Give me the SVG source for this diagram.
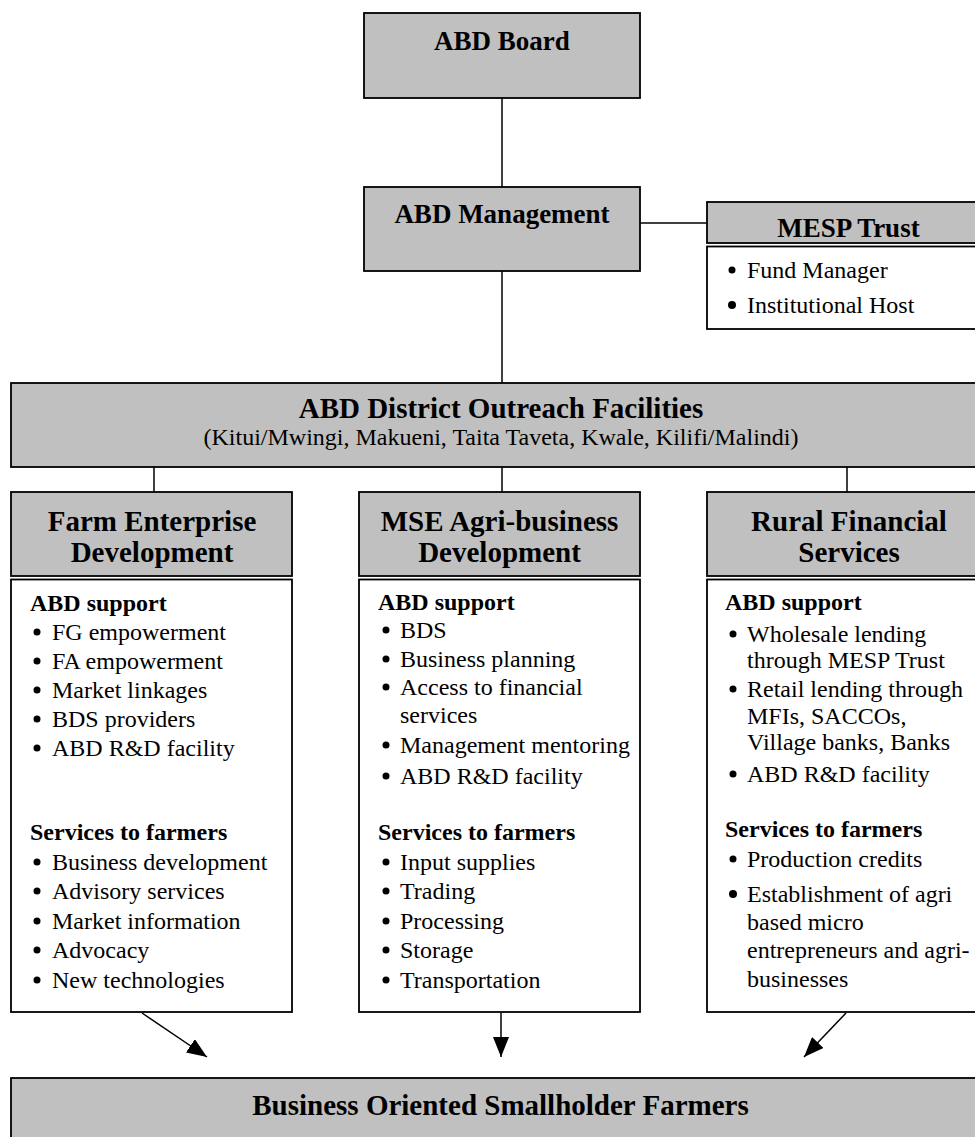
<svg xmlns="http://www.w3.org/2000/svg" width="975" height="1137" viewBox="0 0 975 1137">
<style>
.grey{fill:#c0c0c0;stroke:#000;stroke-width:1.8}
.white{fill:#fff;stroke:#000;stroke-width:1.8}
.conn{stroke:#000;stroke-width:1.5;fill:none}
.arrow{stroke:#000;stroke-width:1.5;fill:none;marker-end:url(#ah)}
text{font-family:"Liberation Serif","Times New Roman",serif;fill:#000}
.h{font-weight:bold;text-anchor:middle;font-size:29px}
.hs{font-weight:bold;text-anchor:middle;font-size:27px}
.t{font-size:24px}
.tb{font-size:24px;font-weight:bold}
.bul{fill:#000}
</style>
<defs>
<marker id="ah" markerUnits="userSpaceOnUse" markerWidth="20" markerHeight="16" refX="20" refY="8" orient="auto">
<path d="M0,0 L20,8 L0,16 z" fill="#000"/>
</marker>
</defs>
<rect width="975" height="1137" fill="#fff"/>

<g id="connectors">
<line class="conn" x1="502" y1="98" x2="502" y2="187"/>
<line class="conn" x1="502" y1="271" x2="502" y2="383"/>
<line class="conn" x1="640" y1="223" x2="707" y2="223"/>
<line class="conn" x1="154" y1="467" x2="154" y2="492"/>
<line class="conn" x1="502" y1="467" x2="502" y2="492"/>
<line class="conn" x1="847" y1="467" x2="847" y2="492"/>
<line class="arrow" x1="142" y1="1013" x2="207" y2="1057"/>
<line class="arrow" x1="501" y1="1013" x2="501" y2="1057"/>
<line class="arrow" x1="846" y1="1013" x2="804" y2="1057"/>
</g>

<g id="board">
<rect class="grey" x="364" y="13" width="276" height="85"/>
<text class="hs" x="502" y="50">ABD Board</text>
</g>

<g id="management">
<rect class="grey" x="364" y="187" width="276" height="84"/>
<text class="hs" x="502" y="223">ABD Management</text>
</g>

<g id="mesp">
<rect class="grey" x="707" y="202" width="283" height="41"/>
<text class="hs" x="848.5" y="237">MESP Trust</text>
<rect class="white" x="707" y="246.5" width="283" height="82.5"/>
<circle class="bul" cx="732" cy="270" r="3.5"/>
<text class="t" x="747" y="278">Fund Manager</text>
<circle class="bul" cx="732" cy="305" r="4"/>
<text class="t" x="747" y="313">Institutional Host</text>
</g>

<g id="district">
<rect class="grey" x="11" y="383" width="980" height="84"/>
<text class="h" x="501" y="418">ABD District Outreach Facilities</text>
<text class="t" x="501" y="445" text-anchor="middle">(Kitui/Mwingi, Makueni, Taita Taveta, Kwale, Kilifi/Malindi)</text>
</g>

<g id="farm">
<rect class="grey" x="11" y="492" width="281" height="84"/>
<text class="h" x="152" y="531">Farm Enterprise</text>
<text class="h" x="152" y="562">Development</text>
<rect class="white" x="11" y="579.5" width="281" height="432.5"/>
<text class="tb" x="30" y="611">ABD support</text>
<circle class="bul" cx="37" cy="632" r="3.5"/><text class="t" x="52" y="640">FG empowerment</text>
<circle class="bul" cx="37" cy="661" r="3.5"/><text class="t" x="52" y="669">FA empowerment</text>
<circle class="bul" cx="37" cy="690" r="3.5"/><text class="t" x="52" y="698">Market linkages</text>
<circle class="bul" cx="37" cy="719" r="3.5"/><text class="t" x="52" y="727">BDS providers</text>
<circle class="bul" cx="37" cy="748" r="3.5"/><text class="t" x="52" y="756">ABD R&amp;D facility</text>
<text class="tb" x="30" y="840">Services to farmers</text>
<circle class="bul" cx="37" cy="862" r="3.5"/><text class="t" x="52" y="870">Business development</text>
<circle class="bul" cx="37" cy="891" r="3.5"/><text class="t" x="52" y="899">Advisory services</text>
<circle class="bul" cx="37" cy="921" r="3.5"/><text class="t" x="52" y="929">Market information</text>
<circle class="bul" cx="37" cy="950" r="3.5"/><text class="t" x="52" y="958">Advocacy</text>
<circle class="bul" cx="37" cy="980" r="3.5"/><text class="t" x="52" y="988">New technologies</text>
</g>

<g id="mse">
<rect class="grey" x="359" y="492" width="281" height="84"/>
<text class="h" x="499.5" y="531">MSE Agri-business</text>
<text class="h" x="499.5" y="562">Development</text>
<rect class="white" x="359" y="579.5" width="281" height="432.5"/>
<text class="tb" x="378" y="610">ABD support</text>
<circle class="bul" cx="386" cy="630" r="3.5"/><text class="t" x="400" y="638">BDS</text>
<circle class="bul" cx="386" cy="659" r="3.5"/><text class="t" x="400" y="667">Business planning</text>
<circle class="bul" cx="386" cy="687" r="3.5"/><text class="t" x="400" y="695">Access to financial</text>
<text class="t" x="400" y="723">services</text>
<circle class="bul" cx="386" cy="745" r="3.5"/><text class="t" x="400" y="753" font-size="22">Management mentoring</text>
<circle class="bul" cx="386" cy="776" r="3.5"/><text class="t" x="400" y="784">ABD R&amp;D facility</text>
<text class="tb" x="378" y="840">Services to farmers</text>
<circle class="bul" cx="386" cy="862" r="3.5"/><text class="t" x="400" y="870">Input supplies</text>
<circle class="bul" cx="386" cy="891" r="3.5"/><text class="t" x="400" y="899">Trading</text>
<circle class="bul" cx="386" cy="921" r="3.5"/><text class="t" x="400" y="929">Processing</text>
<circle class="bul" cx="386" cy="950" r="3.5"/><text class="t" x="400" y="958">Storage</text>
<circle class="bul" cx="386" cy="980" r="3.5"/><text class="t" x="400" y="988">Transportation</text>
</g>

<g id="rfs">
<rect class="grey" x="707" y="492" width="284" height="84"/>
<text class="h" x="849" y="531">Rural Financial</text>
<text class="h" x="849" y="562">Services</text>
<rect class="white" x="707" y="579.5" width="284" height="432.5"/>
<text class="tb" x="725" y="610">ABD support</text>
<circle class="bul" cx="733" cy="634" r="3.5"/><text class="t" x="747" y="642">Wholesale lending</text>
<text class="t" x="747" y="668">through MESP Trust</text>
<circle class="bul" cx="733" cy="689" r="3.5"/><text class="t" x="747" y="697">Retail lending through</text>
<text class="t" x="747" y="724">MFIs, SACCOs,</text>
<text class="t" x="747" y="750">Village banks, Banks</text>
<circle class="bul" cx="733" cy="774" r="3.5"/><text class="t" x="747" y="782">ABD R&amp;D facility</text>
<text class="tb" x="725" y="837">Services to farmers</text>
<circle class="bul" cx="733" cy="859" r="3.5"/><text class="t" x="747" y="867">Production credits</text>
<circle class="bul" cx="733" cy="894" r="4"/><text class="t" x="747" y="902">Establishment of agri</text>
<text class="t" x="747" y="930">based micro</text>
<text class="t" x="747" y="958">entrepreneurs and agri-</text>
<text class="t" x="747" y="987">businesses</text>
</g>

<g id="farmers">
<rect class="grey" x="11" y="1078" width="978" height="80"/>
<text class="h" x="500.5" y="1115">Business Oriented Smallholder Farmers</text>
</g>
</svg>
